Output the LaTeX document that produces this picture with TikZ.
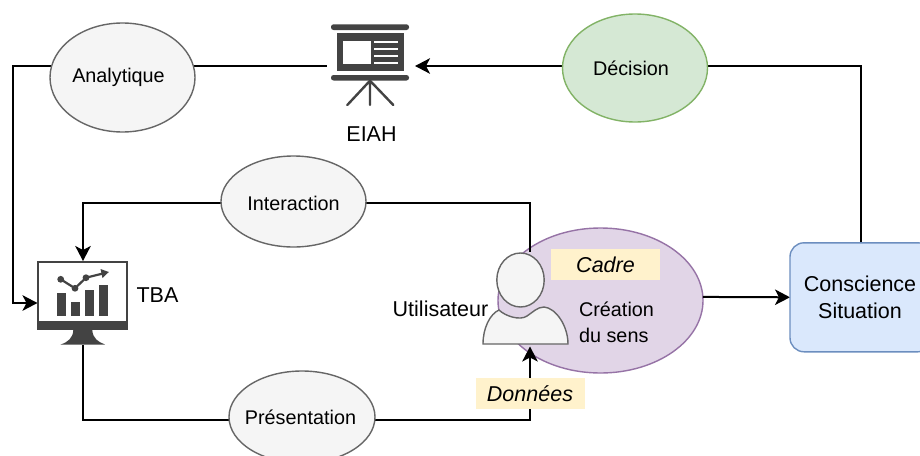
\documentclass[tikz,border=0pt]{standalone}
\usepackage{fontspec}
\setmainfont{Liberation Sans}
\usetikzlibrary{shapes.geometric,arrows.meta,backgrounds}
\pgfdeclarelayer{deep}
\pgfsetlayers{deep,background,main}
\definecolor{icon}{HTML}{434343}
\definecolor{tagc}{HTML}{FFF2CC}
\definecolor{crefill}{HTML}{E1D5E7}
\definecolor{creb}{HTML}{9673A6}
\definecolor{decfill}{HTML}{D5E8D4}
\definecolor{decb}{HTML}{82B366}
\definecolor{consfill}{HTML}{DAE8FC}
\definecolor{consb}{HTML}{6C8EBF}
\definecolor{greyf}{HTML}{F5F5F5}
\definecolor{greyb}{HTML}{666666}
\newcommand{\smalltxt}{\fontsize{19.8}{26}\selectfont}
\newcommand{\bigtxt}{\fontsize{21.5}{27.5}\selectfont}
\tikzset{
  bubble/.style={ellipse,draw,line width=1.4pt,inner sep=0pt,outer sep=0pt,font=\smalltxt},
  greybubble/.style={bubble,fill=greyf,draw=greyb},
  txt/.style={font=\smalltxt,inner sep=0pt},
  conn/.style={line width=2pt,draw=black},
  arr/.style={conn,-{Stealth[length=15pt,width=15.5pt,inset=4pt]}},
  tag/.style={fill=tagc,inner sep=0pt,outer sep=0pt,font=\bigtxt\itshape},
  lab/.style={inner sep=0pt,font=\bigtxt},
  anchorbox/.style={inner sep=0pt,outer sep=0pt},
}
\begin{document}
\begin{tikzpicture}[x=1pt,y=-1pt]
\path[use as bounding box] (0,0) rectangle (920,455);
\clip (0,0) rectangle (920,455);

\begin{pgfonlayer}{deep}
  \fill[white] (0,0) rectangle (920,455);
  \node[bubble,fill=crefill,draw=creb,minimum width=205pt,minimum height=145pt] (cre) at (600.5,300.5) {};
\end{pgfonlayer}

% nodes
\node[greybubble,minimum width=145pt,minimum height=109pt,label={[txt,xshift=-4pt]center:Analytique}] (ana) at (122.5,77.5) {};
\node[bubble,fill=decfill,draw=decb,minimum width=145pt,minimum height=108pt,label={[txt,xshift=-4pt]center:Décision}] (dec) at (635,68) {};
\node[greybubble,minimum width=145pt,minimum height=91pt,label={[txt,yshift=-1.5pt]center:Interaction}] (int) at (293.5,201.5) {};
\node[greybubble,minimum width=146pt,minimum height=92pt,label={[txt,xshift=-1.5pt]center:Présentation}] (pres) at (302,417) {};
\node[draw=consb,fill=consfill,line width=1.4pt,rounded corners=14pt,minimum width=142pt,minimum height=109pt,inner sep=0pt,outer sep=0pt,align=center,font=\bigtxt] (consc) at (861,297.3) {\hspace*{-2pt}Conscience\\\hspace*{-2pt}Situation};

% EIAH icon
\node[anchorbox,minimum width=88pt,minimum height=84pt] (eiah) at (371,66) {};
\fill[icon,rounded corners=2.5pt] (331,24.3) rectangle (409,30);
\fill[icon] (336.7,32.7) rectangle (404.3,71);
\fill[white] (343.3,41) rectangle (371,64);
\foreach \yy in {42.3,49,56,62.7}
  \fill[white] (374.3,\yy-1) rectangle (397.7,\yy+1);
\fill[icon,rounded corners=2.5pt] (331,75) rectangle (409,80.5);
\draw[icon,line width=2.4pt,line cap=round] (347.3,105) -- (370,80.7) -- (393.3,105) (370,80.7) -- (370,105);

% TBA icon
\node[anchorbox,minimum width=91pt,minimum height=84pt] (tba) at (83,303) {};
\draw[icon,line width=2pt,fill=white] (38,262) rectangle (127,326);
\fill[icon] (37,321) rectangle (128,330);
\fill[icon] (73.3,330) .. controls (73,338) and (68,342) .. (60.7,344.5) -- (105,344.5) .. controls (98,342) and (92.6,338) .. (92.3,330) -- cycle;
\fill[icon] (57.3,293.3) rectangle (66.3,316);
\fill[icon] (71,301.7) rectangle (80.3,316);
\fill[icon] (85,290) rectangle (94.3,316);
\fill[icon] (99,285) rectangle (108.3,316);
\draw[icon,line width=2.2pt] (60.7,279.3) -- (75,288.3) -- (86,277.7) -- (103,273.5);
\fill[icon] (60.7,279.3) circle (3.4pt) (75,288.3) circle (3.4pt) (86,277.7) circle (3.4pt);
\fill[icon] (108.8,272) -- (100.5,269) -- (102.5,278) -- cycle;

% user
\coordinate (userout) at (530,252);
\coordinate (userin) at (530,346.5);
\node[anchorbox,minimum width=85pt,minimum height=91pt] (user) at (525.5,298.5) {};
\draw[fill=greyf,draw=greyb,line width=1.4pt] (483,344) .. controls (483,328) and (490,314) .. (499,310) .. controls (505,316) and (520,321) .. (527,316) .. controls (532,313) and (537,307) .. (544,307) .. controls (556,308) and (568,326) .. (568,344) -- cycle;
\draw[fill=greyf,draw=greyb,line width=1.4pt] (520.5,280) ellipse [x radius=23.7pt,y radius=27pt];

% connectors
\coordinate (rail) at (13,200);
\coordinate (introw) at (294,203);
\coordinate (presrow) at (302,420);
\begin{pgfonlayer}{background}
  \draw[arr] (dec.center |- eiah.east) -- (eiah.east);
  \draw[conn] (dec.center |- eiah.east) -| (consc.north);
  \draw[conn] (ana.center |- eiah.west) -- (eiah.west);
  \draw[arr] (ana.center |- eiah.west) -- (rail |- eiah.west) -- (rail |- tba.west) -- (tba.west);
  \draw[arr] (introw) -| (tba.north);
  \draw[conn] (introw) -| (userout);
  \draw[conn] (presrow) -| (tba.south);
  \draw[arr] (presrow) -| (userin);
  \draw[arr] (cre.2) -- (consc.west);
\end{pgfonlayer}

% labels
\node[lab] (eiahl) at (371.5,134) {EIAH};
\node[lab] (tbal) at (157.5,295) {TBA};
\node[lab] (userl) at (440.5,309) {Utilisateur};
\node[inner sep=0pt,align=left,font=\smalltxt] (crel) at (616.5,322) {Création\\du sens};
\node[tag,minimum width=109pt,minimum height=31pt] (cadre) at (605.5,264.5) {Cadre};
\node[tag,minimum width=109pt,minimum height=31pt] (don) at (530.5,393.5) {\hspace*{-1pt}Données};
\end{tikzpicture}
\end{document}
